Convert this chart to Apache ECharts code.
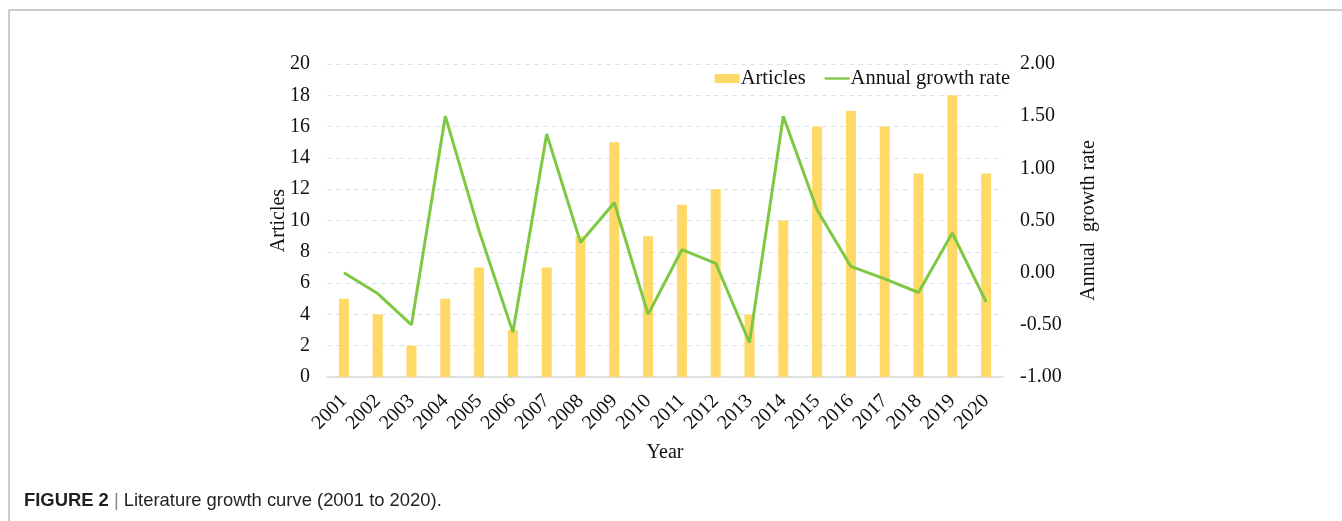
<!DOCTYPE html>
<html>
<head>
<meta charset="utf-8">
<script src="https://cdn.jsdelivr.net/npm/echarts@6/dist/echarts.min.js"></script>
<style>
html,body{margin:0;padding:0;background:#fff;}
#chart{width:1342px;height:521px;}
</style>
</head>
<body>
<div id="chart"></div>
<script>
const years = ['2001','2002','2003','2004','2005','2006','2007','2008','2009','2010','2011','2012','2013','2014','2015','2016','2017','2018','2019','2020'];
const articles = [5,4,2,5,7,3,7,9,15,9,11,12,4,10,16,17,16,13,18,13];
const growthRate = [0,-0.2,-0.5,1.5,0.4,-0.57,1.33,0.29,0.67,-0.4,0.22,0.09,-0.67,1.5,0.6,0.06,-0.06,-0.19,0.38,-0.28];

const serif = '"Liberation Serif", "Times New Roman", serif';
const sans = '"Liberation Sans", Arial, sans-serif';
const FS = 20;
const chart = echarts.init(document.getElementById('chart'));
chart.setOption({
  animation: false,
  backgroundColor: '#fff',
  textStyle: {fontFamily: serif},
  grid: {left: 327, right: 339, top: 64, bottom: 144},
  legend: {
    right: 327, top: 63, itemGap: 19, itemWidth: 25, itemHeight: 9,
    textStyle: {fontFamily: serif, fontSize: 20.5, color: '#111', padding: [0,0,0,-4]},
    data: [
      {name: 'Articles', icon: 'rect'},
      {name: 'Annual growth rate', icon: 'path://M0,0 L28,0 L28,2.6 L0,2.6 Z', itemStyle: {color: '#7EC843'}}
    ]
  },
  xAxis: {
    type: 'category', data: years,
    name: 'Year', nameLocation: 'middle', nameGap: 66, nameMoveOverlap: false,
    nameTextStyle: {fontFamily: serif, fontSize: FS, color: '#111'},
    axisTick: {show: false},
    axisLine: {lineStyle: {color: '#d9d9d9', width: 1.5}},
    axisLabel: {rotate: 45, fontFamily: serif, fontSize: FS, color: '#111', margin: 21, interval: 0}
  },
  yAxis: [{
    type: 'value', min: 0, max: 20, interval: 2,
    name: 'Articles', nameLocation: 'middle', nameGap: 38, nameRotate: 90, nameMoveOverlap: false,
    nameTextStyle: {fontFamily: serif, fontSize: FS, color: '#111'},
    axisLine: {show: false}, axisTick: {show: false},
    axisLabel: {fontFamily: serif, fontSize: FS, color: '#111', margin: 17},
    splitLine: {lineStyle: {color: '#d9e1f2', type: [5,4], width: 1}}
  }, {
    type: 'value', min: -1, max: 2, interval: 0.5,
    name: 'Annual  growth rate', nameLocation: 'middle', nameGap: 76, nameRotate: 90,
    nameTextStyle: {fontFamily: serif, fontSize: FS, color: '#111'},
    axisLine: {show: false}, axisTick: {show: false},
    axisLabel: {fontFamily: serif, fontSize: FS, color: '#111', margin: 17, formatter: v => v.toFixed(2)},
    splitLine: {show: false}
  }],
  series: [{
    name: 'Articles', type: 'bar', data: articles, barWidth: 10,
    itemStyle: {color: '#FFD966'}
  }, {
    name: 'Annual growth rate', type: 'line', yAxisIndex: 1, data: growthRate,
    symbol: 'none', lineStyle: {color: '#7EC843', width: 3}, itemStyle: {color: '#7EC843'}
  }],
  graphic: [
    {type: 'line', shape: {x1: 9, y1: 10, x2: 1342, y2: 10}, style: {stroke: '#cccccc', lineWidth: 2}},
    {type: 'line', shape: {x1: 9, y1: 10, x2: 9, y2: 521}, style: {stroke: '#cccccc', lineWidth: 2}},
    {type: 'text', left: 24, top: 492, style: {
      text: '{b|FIGURE 2} {p||} Literature growth curve (2001 to 2020).',
      fontFamily: sans, fontSize: 18.4, fill: '#231f20',
      rich: {
        b: {fontFamily: sans, fontSize: 18.4, fontWeight: 'bold', fill: '#231f20'},
        p: {fontFamily: sans, fontSize: 18.4, fill: '#888'}
      }
    }}
  ]
});
</script>
</body>
</html>
